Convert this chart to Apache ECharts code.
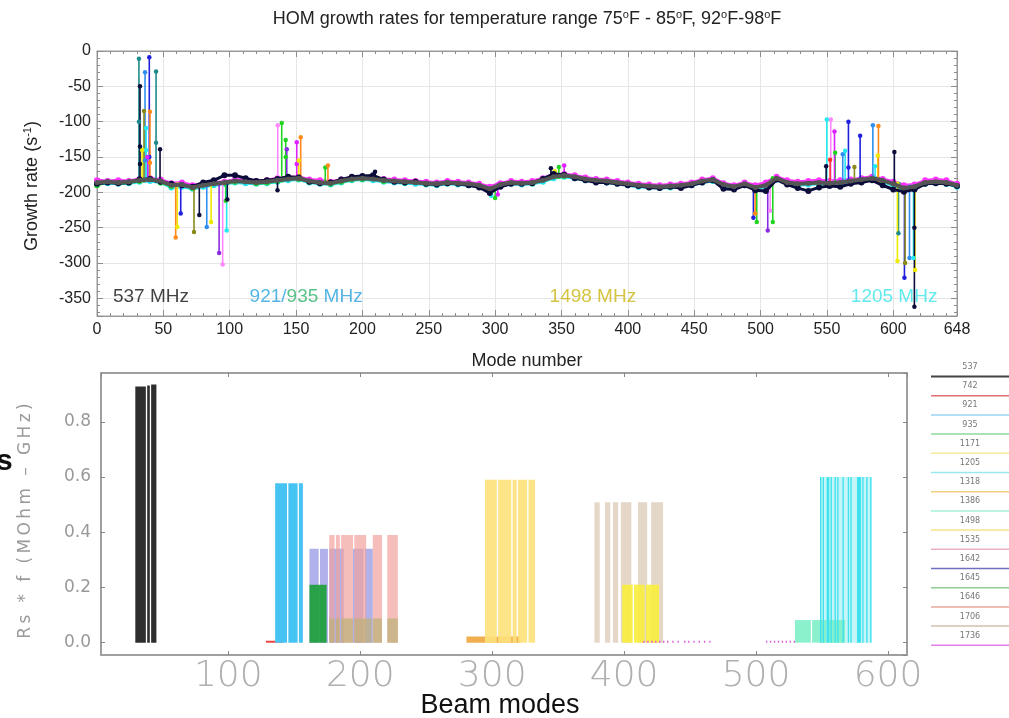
<!DOCTYPE html>
<html><head><meta charset="utf-8">
<script src="https://cdn.jsdelivr.net/npm/echarts@6/dist/echarts.min.js"></script>
<style>html,body{margin:0;padding:0;background:#fff}#c{width:1009px;height:718px}</style>
</head><body><div id="c"></div>
<script>
// ================= TOP CHART DATA (HOM growth rates) =================
const bandModes = [0,8,16,24,32,40,48,56,64,72,80,88,96,104,112,120,128,136,144,152,160,168,176,184,192,200,208,216,224,232,240,248,256,264,272,280,288,296,304,312,320,328,336,344,352,360,368,376,384,392,400,408,416,424,432,440,448,456,464,472,480,488,496,504,512,520,528,536,544,552,560,568,576,584,592,600,608,616,624,632,640,648];
const bandGray = [-186,-185,-186,-185,-183,-182,-184,-190,-189,-193,-190,-188,-186,-184,-185,-186,-185,-183,-181,-180,-184,-186,-187,-184,-181,-180,-181,-183,-184,-185,-186,-187,-188,-186,-187,-188,-190,-195,-189,-186,-187,-186,-183,-178,-176,-178,-181,-183,-184,-186,-188,-190,-191,-192,-191,-190,-188,-184,-182,-189,-192,-188,-193,-190,-180,-186,-188,-187,-186,-187,-186,-184,-182,-180,-183,-188,-194,-192,-186,-185,-186,-190];
const bandNavy = [-188,-186,-187,-186,-182,-181,-185,-188,-190,-192,-186,-183,-176,-176,-180,-184,-183,-181,-178,-179,-185,-187,-186,-182,-178,-177,-176,-182,-185,-186,-185,-188,-189,-187,-188,-190,-193,-201,-192,-188,-188,-187,-181,-174,-175,-180,-183,-186,-186,-188,-190,-191,-193,-194,-192,-194,-190,-186,-183,-195,-196,-190,-197,-198,-182,-189,-194,-198,-193,-191,-192,-188,-186,-183,-190,-196,-199,-196,-188,-187,-188,-191];
const bandMagenta = [-183,-184,-183,-184,-181,-180,-182,-187,-186,-190,-188,-186,-185,-182,-183,-184,-183,-180,-179,-178,-182,-183,-185,-182,-180,-178,-179,-181,-182,-183,-184,-185,-186,-184,-185,-186,-188,-192,-187,-184,-185,-184,-180,-175,-174,-176,-179,-181,-182,-184,-186,-188,-189,-190,-189,-188,-186,-182,-180,-187,-190,-186,-190,-186,-178,-183,-185,-184,-183,-184,-183,-182,-180,-178,-181,-185,-190,-189,-183,-182,-183,-188];
const bandCyan = [-188,-187,-188,-187,-185,-184,-186,-193,-192,-195,-192,-190,-188,-186,-187,-188,-187,-185,-183,-182,-186,-188,-189,-186,-183,-182,-183,-185,-186,-187,-188,-189,-190,-188,-189,-190,-192,-198,-191,-188,-189,-188,-185,-180,-178,-180,-183,-185,-186,-188,-190,-192,-193,-194,-193,-192,-190,-186,-184,-191,-194,-190,-195,-192,-182,-188,-190,-189,-188,-189,-188,-186,-184,-182,-185,-190,-196,-194,-188,-187,-188,-192];
const bandGreen = [-190,-184,-187,-186,-184,-181,-186,-191,-188,-194,-189,-187,-187,-185,-184,-187,-186,-184,-180,-181,-185,-185,-188,-185,-182,-181,-180,-184,-183,-186,-185,-188,-187,-187,-186,-189,-191,-196,-190,-187,-186,-187,-182,-177,-177,-177,-182,-182,-185,-185,-189,-189,-192,-191,-192,-189,-189,-183,-183,-188,-193,-187,-194,-189,-181,-185,-189,-186,-187,-186,-187,-183,-183,-179,-184,-187,-195,-191,-187,-184,-187,-189];

// spikes: [mode, extreme value, other values along the spike...]
const spikeNavy = [[32.4,-50,-135,-160],[47.5,-139],[77.1,-232],[98.2,-210],[136,-197],[209.5,-171],[342,-166],[549.4,-163],[600.8,-143],[615.9,-362,-250]];
const spikeBlue = [[39.4,-9,-150],[63.1,-230],[494.6,-236],[566.2,-100,-165],[575,-120],[608.4,-321]];
const spikeLightBlue = [[36.2,-30,-155],[82.7,-249],[561.9,-146],[584.6,-105],[612.2,-293]];
const spikeTeal = [[31.6,-11,-100],[44.5,-29,-130],[603.9,-258]];
const spikeGreen = [[97,-212],[139.2,-102],[142.2,-126,-150],[172,-165],[300,-208],[348,-164],[497.1,-242],[509.2,-242],[556.2,-144]];
const spikeMagenta = [[38,-150],[150.5,-129,-160],[302,-203],[352,-162],[555.7,-114]];
const spikePink = [[94.7,-302],[136.2,-105],[507.2,-226],[552.9,-97]];
const spikeCyan = [[37,-109,-140],[97.7,-254],[297,-205],[549.9,-97],[563.7,-141],[586.3,-163],[615.2,-293]];
const spikeYellow = [[34,-140],[60.5,-249],[86,-242],[152,-155],[345,-170],[588.3,-148],[603.1,-297],[616.4,-310]];
const spikeOrange = [[39.9,-86,-158],[59.3,-264],[153.5,-122],[174,-162],[495.9,-230],[588.8,-106]];
const spikePurple = [[92,-286],[143,-139],[505.4,-254]];
const spikeOlive = [[35.4,-85],[73.1,-256],[570.7,-164],[608.9,-300]];
const spikeRed = [[552.4,-154]];

const annotModes = [12, 115, 341, 568];
const annotValue = -348;
const annotParts = [
  [['537 MHz','#111111']],
  [['921','#29a3df'],['/','#29a3df'],['935','#2fb36b'],[' MHz','#29a3df']],
  [['1498 MHz','#c9b512']],
  [['1205 MHz','#3ae3ea']]
];

// ================= BOTTOM CHART DATA (Rs*f vs beam modes) =================
// segments: [first mode, last mode, Rs*f]
const seg537 = [[30,37,0.928],[39,40,0.932],[42,45,0.935]];
const seg742 = [[129,141,0.007]];
const seg921 = [[136,144,0.578],[146,152,0.578],[154,156,0.578]];
const seg1642 = [[162,168,0.34],[170,175,0.34],[177,187,0.34],[195,202,0.34],[204,209,0.34]];
const seg1646 = [[177,180,0.39],[182,184,0.39],[186,194,0.39],[196,204,0.39],[210,216,0.39],[221,228,0.39]];
const seg1645 = [[162,174,0.21]];
const segKhaki = [[177,180,0.088],[182,184,0.088],[186,194,0.088],[196,208,0.088],[210,216,0.088],[221,228,0.088]];
const seg1318 = [[281,321,0.022]];
const seg1498 = [[295,303,0.59],[305,314,0.59],[316,318,0.59],[320,326,0.59],[328,332,0.59]];
const segTan = [[378,381,0.509],[386,389,0.509],[392,395,0.509],[398,405,0.509],[411,417,0.509],[421,429,0.509]];
const segBright = [[399,406,0.21],[408,415,0.21],[417,426,0.21]];
const segMagenta = [[415,415,0.007],[418,418,0.007],[421,421,0.007],[424,424,0.007],[427,427,0.007],[430,430,0.007],[433,433,0.007],[437,437,0.007],[441,441,0.007],[446,446,0.007],[449,449,0.007],[453,453,0.007],[457,457,0.007],[461,461,0.007],[465,465,0.007],[508,508,0.007],[511,511,0.007],[514,514,0.007],[517,517,0.007],[520,520,0.007],[523,523,0.007],[526,526,0.007],[529,529,0.007]];
const segMint = [[530,541,0.082],[543,553,0.082],[555,567,0.082]];
const segCyanFill = [[549,587,0.6]];
const segCyanStrip = [[549,549,0.6],[551,551,0.6],[554,555,0.6],[557,557,0.6],[560,560,0.6],[562,562,0.6],[566,566,0.6],[570,570,0.6],[572,572,0.6],[577,579,0.6],[581,581,0.6],[584,584,0.6],[587,587,0.6]];

const legendFreqs = ['537','742','921','935','1171','1205','1318','1386','1498','1535','1642','1645','1646','1706','1736'];
const legendColors = ['#444444','#e07070','#9ad4f0','#8fd89a','#f5ec9a','#9ae6f0','#f2cf80','#a6f0d6','#f5e48a','#e8b0c8','#7070c0','#90cc90','#e8a898','#cfc0ae','#e080e8'];

// ================= BUILD =================
const LIB = 'Liberation Sans, Arial, sans-serif';
function baseAt(m){ let best=0; for(let i=0;i<bandModes.length;i++){ if(Math.abs(bandModes[i]-m)<Math.abs(bandModes[best]-m)) best=i; } return bandGray[best]; }
function spikeData(list){ const d=[]; list.forEach(s=>{ const m=s[0]; d.push([m, baseAt(m)]); for(let k=s.length-1;k>=1;k--) d.push([m, s[k]]); d.push([m, null]); }); return d; }
function bandLine(arr, color, w, sym, z){ return {type:'line', xAxisIndex:0, yAxisIndex:0, data: bandModes.map((m,i)=>[m, arr[i]]), symbol:'circle', symbolSize:sym, showSymbol:true, lineStyle:{color, width:w}, itemStyle:{color}, z:z, silent:true}; }
function spikeLine(list, color){ return {type:'line', xAxisIndex:0, yAxisIndex:0, data: spikeData(list), symbol:'circle', symbolSize:4.5, lineStyle:{color, width:1.6}, itemStyle:{color}, z:3, silent:true, connectNulls:false}; }
function segSeries(segs, color, opacity, z){
  return {type:'custom', xAxisIndex:2, yAxisIndex:2, z:z, silent:true, data:segs, encode:{x:[0,1], y:2}, clip:true,
    renderItem:(params, api)=>{
      const a = api.coord([api.value(0)-0.5, api.value(2)]);
      const b = api.coord([api.value(1)+0.5, 0]);
      return {type:'rect', shape:{x:a[0], y:a[1], width:Math.max(b[0]-a[0],1), height:Math.max(b[1]-a[1],1.5)}, style:{fill:color, opacity:opacity}};
    }};
}

const series = [
  bandLine(bandCyan, '#22e2ee', 3, 6, 2),
  bandLine(bandGreen, '#22d633', 3, 6, 2),
  bandLine(bandMagenta, '#ff33ff', 3, 6, 2),
  spikeLine(spikeTeal, '#1f8a8a'),
  spikeLine(spikeBlue, '#2020dd'),
  spikeLine(spikeLightBlue, '#2f8fef'),
  spikeLine(spikeGreen, '#1fd51f'),
  spikeLine(spikeMagenta, '#dd22ff'),
  spikeLine(spikePink, '#ff88ff'),
  spikeLine(spikeCyan, '#22eaf0'),
  spikeLine(spikeYellow, '#eeea00'),
  spikeLine(spikeOrange, '#ff8a1a'),
  spikeLine(spikePurple, '#8a2be2'),
  spikeLine(spikeOlive, '#8a8a1a'),
  spikeLine(spikeRed, '#ff3030'),
  spikeLine(spikeNavy, '#0c0c3a'),
  bandLine(bandNavy, '#0c0c3a', 3, 6, 4),
  bandLine(bandGray, '#555555', 4, 5, 5),
  {type:'scatter', xAxisIndex:0, yAxisIndex:0, symbolSize:0, silent:true, z:10,
   data: annotModes.map((m,i)=>{
     const rich={}; let txt='';
     annotParts[i].forEach((p,k)=>{ rich['p'+k]={color:p[1], fontSize:19, fontFamily:LIB}; txt+='{p'+k+'|'+p[0]+'}'; });
     return {value:[m, annotValue], label:{show:true, position:'right', distance:0, formatter:txt, rich:rich}};
   })},
  segSeries(seg537, '#2e2e2e', 1, 2),
  segSeries(seg742, '#e8413c', 1, 2),
  segSeries(seg921, '#45c3f3', 1, 2),
  segSeries(seg1642, '#9c9ce6', 0.8, 2),
  segSeries(seg1646, '#f2a29c', 0.7, 3),
  segSeries(seg1645, '#22a040', 0.95, 4),
  segSeries(segKhaki, '#bdb27a', 0.75, 5),
  segSeries(seg1318, '#f0a53c', 0.9, 2),
  segSeries(seg1498, '#fde17a', 0.9, 2),
  segSeries(segTan, '#e2d3c2', 0.9, 2),
  segSeries(segBright, '#f8ee3c', 0.9, 3),
  segSeries(segMagenta, '#dd55dd', 1, 3),
  segSeries(segMint, '#7df0c6', 0.9, 3),
  segSeries(segCyanFill, '#c4f5f8', 1, 2),
  segSeries(segCyanStrip, '#3de2ee', 1, 3)
];

const xTop = {min:0, max:648, interval:50};
const yTop = {min:-375, max:0, splitNumber:8};
const xBot = {min:3.5, max:614.4, splitNumber:6};
const yBot = {min:-0.0446, max:0.977, splitNumber:5};

const xAxis = [
  Object.assign({type:'value', gridIndex:0, position:'bottom', axisLine:{show:true, onZero:false, lineStyle:{color:'#9a9a9a'}},
    axisTick:{inside:true, length:6, lineStyle:{color:'#8c8c8c'}}, minorTick:{show:true, splitNumber:5, length:3, lineStyle:{color:'#8c8c8c'}},
    splitLine:{show:true, lineStyle:{color:'#e6e6e6'}},
    axisLabel:{fontSize:16, color:'#222', fontFamily:LIB, margin:6}}, xTop),
  Object.assign({type:'value', gridIndex:0, position:'top', axisLine:{show:true, onZero:false, lineStyle:{color:'#9a9a9a'}},
    axisTick:{inside:true, length:6, lineStyle:{color:'#8c8c8c'}}, minorTick:{show:true, splitNumber:5, length:3, lineStyle:{color:'#8c8c8c'}},
    splitLine:{show:false}, axisLabel:{show:false}}, xTop),
  Object.assign({type:'value', gridIndex:1, position:'bottom', axisLine:{show:true, onZero:false, lineStyle:{color:'#999', width:1.5}},
    axisTick:{inside:true, length:4, lineStyle:{color:'#888'}}, splitLine:{show:false},
    axisLabel:{fontSize:36, color:'#b0b0b0', fontFamily:'DejaVu Sans', fontWeight:200, margin:4, showMinLabel:false, showMaxLabel:false}}, xBot),
  Object.assign({type:'value', gridIndex:1, position:'top', axisLine:{show:true, onZero:false, lineStyle:{color:'#999', width:1.5}},
    axisTick:{inside:true, length:4, lineStyle:{color:'#888'}}, splitLine:{show:false}, axisLabel:{show:false}}, xBot)
];
const yAxis = [
  Object.assign({type:'value', gridIndex:0, position:'left', axisLine:{show:true, onZero:false, lineStyle:{color:'#9a9a9a'}},
    axisTick:{inside:true, length:6, lineStyle:{color:'#8c8c8c'}}, minorTick:{show:true, splitNumber:5, length:3, lineStyle:{color:'#8c8c8c'}},
    splitLine:{show:true, lineStyle:{color:'#e6e6e6'}},
    axisLabel:{fontSize:16, color:'#222', fontFamily:LIB, margin:6, showMinLabel:false}}, yTop),
  Object.assign({type:'value', gridIndex:0, position:'right', axisLine:{show:true, onZero:false, lineStyle:{color:'#9a9a9a'}},
    axisTick:{inside:true, length:6, lineStyle:{color:'#8c8c8c'}}, minorTick:{show:true, splitNumber:5, length:3, lineStyle:{color:'#8c8c8c'}},
    splitLine:{show:false}, axisLabel:{show:false}}, yTop),
  Object.assign({type:'value', gridIndex:1, position:'left', axisLine:{show:true, onZero:false, lineStyle:{color:'#999', width:1.5}},
    axisTick:{inside:true, length:4, lineStyle:{color:'#888'}}, splitLine:{show:false},
    axisLabel:{fontSize:17, color:'#999', fontFamily:'DejaVu Sans', margin:10, showMinLabel:false, showMaxLabel:false, formatter:v=>v.toFixed(1)}}, yBot),
  Object.assign({type:'value', gridIndex:1, position:'right', axisLine:{show:true, onZero:false, lineStyle:{color:'#999', width:1.5}},
    axisTick:{inside:true, length:4, lineStyle:{color:'#888'}}, splitLine:{show:false}, axisLabel:{show:false}}, yBot)
];

const graphic = [
  {type:'text', x:527, y:19, silent:true, style:{text:'{n|HOM growth rates for temperature range 75}{s|o}{n|F - 85}{s|o}{n|F, 92}{s|o}{n|F-98}{s|o}{n|F}',
    align:'center', verticalAlign:'middle', fill:'#222',
    rich:{n:{fontSize:18, fontFamily:LIB, fill:'#222'}, s:{fontSize:11, fontFamily:LIB, fill:'#222', padding:[0,0,9,0]}}}},
  {type:'text', x:527, y:361, silent:true, style:{text:'Mode number', align:'center', verticalAlign:'middle', fill:'#222', fontSize:18, fontFamily:LIB}},
  {type:'text', x:32, y:186, rotation:Math.PI/2, silent:true, style:{text:'{n|Growth rate (s}{s|-1}{n|)}', align:'center', verticalAlign:'middle', fill:'#222',
    rich:{n:{fontSize:18, fontFamily:LIB, fill:'#222'}, s:{fontSize:11, fontFamily:LIB, fill:'#222', padding:[0,0,9,0]}}}},
  {type:'text', x:26, y:521, rotation:Math.PI/2, silent:true, style:{text:'R\u2009s\u2009 \u2009*\u2009 \u2009f\u2009 \u2009(\u2009M\u2009O\u2009h\u2009m\u2009 \u2009\u2013\u2009 \u2009G\u2009H\u2009z\u2009)', align:'center', verticalAlign:'middle', fill:'#9a9a9a', fontSize:17, fontFamily:'DejaVu Sans'}},
  {type:'text', x:-4, y:462, silent:true, style:{text:'s', align:'left', verticalAlign:'middle', fill:'#111', fontSize:30, fontWeight:'bold', fontFamily:LIB}},
  {type:'text', x:500, y:706, silent:true, style:{text:'Beam modes', align:'center', verticalAlign:'middle', fill:'#111', fontSize:27, fontFamily:LIB}}
];
legendFreqs.forEach((f,k)=>{
  const y = 367 + 19.2*k;
  graphic.push({type:'text', x:970, y:y, silent:true, style:{text:f, align:'center', verticalAlign:'middle', fill:'#777', fontSize:8, fontFamily:'DejaVu Sans'}});
  graphic.push({type:'line', silent:true, shape:{x1:931, y1:y+9.5, x2:1009, y2:y+9.5}, style:{stroke:legendColors[k], lineWidth:k===0?2:1.5}});
});

const chart = echarts.init(document.getElementById('c'));
chart.setOption({
  animation:false,
  backgroundColor:'#fff',
  grid:[
    {left:97, top:51, width:860, height:265, show:true, borderColor:'#9a9a9a', borderWidth:1},
    {left:101, top:373, width:806, height:282, show:true, borderColor:'#999', borderWidth:1.5}
  ],
  xAxis:xAxis, yAxis:yAxis, series:series, graphic:graphic
});
</script></body></html>
